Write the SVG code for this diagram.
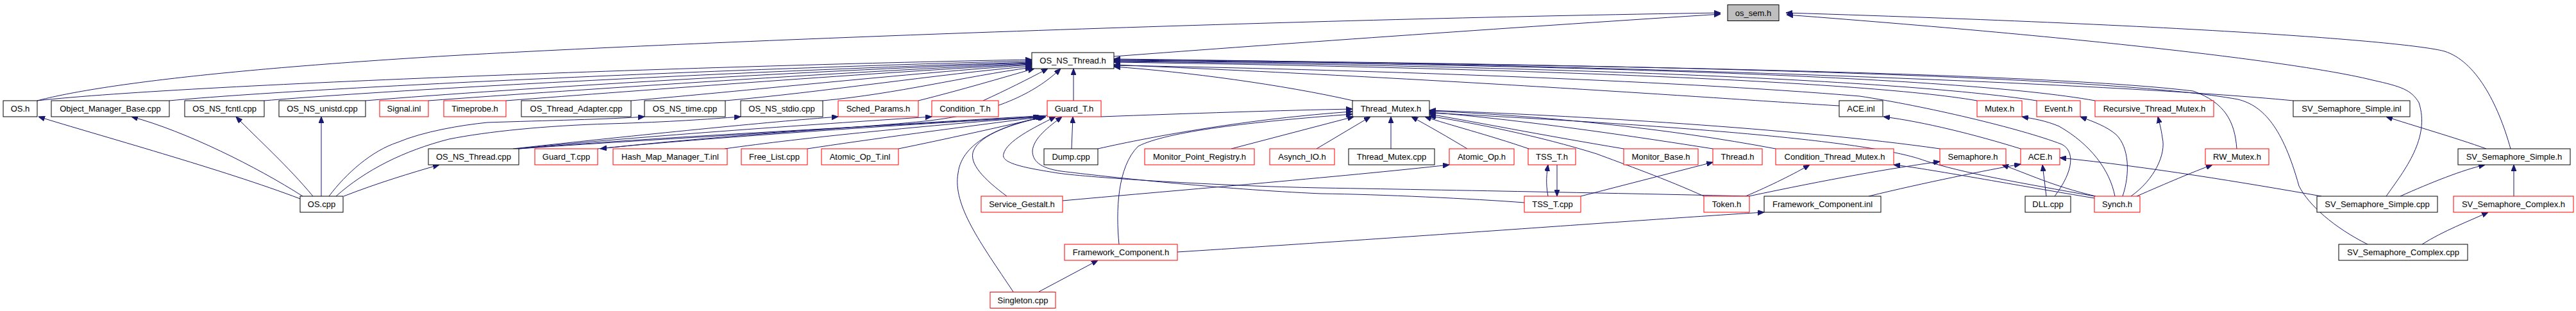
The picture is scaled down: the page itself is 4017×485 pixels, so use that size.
<svg xmlns="http://www.w3.org/2000/svg" width="4017" height="485" viewBox="0 0 4017 485">
<style>
.nd rect{fill:#ffffff;stroke:#000000;stroke-width:1}
.nd.red rect{stroke:#ff0000}
.nd.root rect{fill:#bfbfbf}
.nd text{font-family:"Liberation Sans",Arial,sans-serif;font-size:13px;text-anchor:middle;fill:#000000}
.edges path{fill:none;stroke:#191970;stroke-width:1;marker-end:url(#ah)}
</style>
<defs>
<marker id="ah" markerWidth="10" markerHeight="8" refX="10" refY="4" orient="auto" markerUnits="userSpaceOnUse"><path d="M0,0 L10,4 L0,8 z" fill="#191970" stroke="#191970"/></marker>
</defs>
<rect width="4017" height="485" fill="#ffffff"/>
<g id="edges" class="edges">
<path d="M58,157 C150,133 350,108 700,87 C1100,64 2000,30 2683,20"/>
<path d="M1737,88 C2000,68 2400,40 2683,22"/>
<path d="M3915,232 C3895,160 3860,95 3812,80 C3770,68 3500,42 2785,20"/>
<path d="M3721,306 C3750,265 3790,215 3772,160 C3760,140 3745,135 3700,125 C3600,100 3300,62 2786,23"/>
<path d="M58,157 C300,130 1200,100 1609,93"/>
<path d="M264,157 C500,135 1200,105 1609,95"/>
<path d="M412,157 C650,137 1250,107 1609,97"/>
<path d="M570,157 C800,138 1300,108 1609,98"/>
<path d="M668,157 C900,140 1350,110 1609,99"/>
<path d="M789,157 C1000,141 1380,112 1609,100"/>
<path d="M984,157 C1150,143 1420,114 1609,101"/>
<path d="M1131,157 C1280,144 1460,116 1609,103"/>
<path d="M1283,157 C1400,146 1500,120 1609,105"/>
<path d="M1432,157 C1500,140 1560,122 1613,107"/>
<path d="M1533,157 C1570,140 1600,125 1634,107"/>
<path d="M1674,157 L1674,107"/>
<path d="M809,232 C1000,218 1350,200 1450,188 C1560,175 1620,140 1654,107"/>
<path d="M2110,157 C2000,132 1850,112 1737,104"/>
<path d="M2868,165 C2700,155 2300,125 1737,101"/>
<path d="M3204,306 C3235,265 3235,235 3215,225 C3150,200 3000,165 2900,150 C2600,125 2100,108 1737,102"/>
<path d="M3083,157 C2900,125 2300,105 1737,97"/>
<path d="M3176,157 C2950,122 2350,102 1737,96"/>
<path d="M3267,157 C3050,118 2400,100 1737,95"/>
<path d="M3488,232 C3485,190 3470,160 3420,142 C3200,115 2500,100 1737,94"/>
<path d="M3692,381 C3640,355 3600,320 3585,290 C3560,200 3530,165 3490,155 C3300,120 2600,100 1737,93"/>
<path d="M3576,157 C3300,130 2500,100 1737,92"/>
<path d="M809,232 C1000,215 1400,195 1621,182"/>
<path d="M932,232 C1100,215 1400,195 1623,182"/>
<path d="M1633,180 C1400,193 1100,213 936,232"/>
<path d="M1130,232 C1250,215 1450,195 1625,182"/>
<path d="M1259,232 C1350,218 1500,198 1627,182"/>
<path d="M1401,232 C1470,218 1560,198 1629,182"/>
<path d="M1570,306 C1535,280 1510,255 1518,235 C1528,210 1580,192 1631,182"/>
<path d="M1580,455 C1530,380 1485,320 1494,270 C1500,220 1565,195 1628,182"/>
<path d="M1671,232 L1673,182"/>
<path d="M2727,306 C2600,303 2300,297 2060,293 C1900,290 1700,277 1650,270 C1600,262 1560,255 1565,240 C1570,220 1610,200 1646,182"/>
<path d="M2377,316 C2300,310 2150,303 2060,302 C1900,295 1720,275 1655,267 C1620,262 1610,250 1610,235 C1612,215 1635,198 1656,182"/>
<path d="M800,232 C1000,210 1200,190 1307,182"/>
<path d="M805,232 C1000,212 1300,192 1453,182"/>
<path d="M1717,182 C1850,177 2000,172 2109,170"/>
<path d="M1712,232 C1800,212 1950,185 2109,174"/>
<path d="M1745,381 C1740,330 1742,260 1775,228 C1820,205 1950,190 2109,178"/>
<path d="M1920,232 L2111,182"/>
<path d="M2053,232 L2137,182"/>
<path d="M2169,232 L2169,182"/>
<path d="M2288,232 C2260,215 2225,195 2201,182"/>
<path d="M2384,232 C2320,210 2260,195 2222,182"/>
<path d="M2532,232 C2400,210 2300,190 2229,178"/>
<path d="M2671,232 C2500,205 2350,185 2229,175"/>
<path d="M2657,306 C2600,280 2530,255 2490,240 C2400,212 2300,192 2229,181"/>
<path d="M2769,232 C2600,200 2400,180 2229,173"/>
<path d="M3025,232 C2800,200 2450,180 2229,172"/>
<path d="M3266,306 C3150,285 3060,270 3000,250 C2950,232 2800,205 2229,176"/>
<path d="M3151,232 C3080,210 3000,190 2937,182"/>
<path d="M3191,306 L3185,257"/>
<path d="M2914,306 C3000,285 3100,265 3151,256"/>
<path d="M3620,306 C3500,285 3350,260 3212,246"/>
<path d="M2727,306 C2850,280 2950,262 3025,252"/>
<path d="M3268,306 C3200,290 3160,270 3122,257"/>
<path d="M2722,306 C2760,290 2800,270 2822,257"/>
<path d="M3266,309 C3150,290 3000,262 2953,257"/>
<path d="M2465,306 L2671,253"/>
<path d="M2414,306 C2410,285 2412,270 2414,257"/>
<path d="M2428,257 L2428,306"/>
<path d="M1657,313 C1800,300 2100,275 2260,257"/>
<path d="M1836,393 C2200,370 2600,340 2751,331"/>
<path d="M1620,455 L1712,406"/>
<path d="M3298,306 C3290,265 3260,225 3211,197 C3190,188 3170,185 3153,182"/>
<path d="M3310,306 C3322,270 3320,230 3300,210 C3285,197 3265,190 3244,182"/>
<path d="M3323,306 C3360,280 3378,240 3372,215 C3370,200 3367,190 3365,182"/>
<path d="M3332,306 C3380,285 3420,268 3450,257"/>
<path d="M3877,232 C3830,215 3760,195 3721,182"/>
<path d="M3743,306 C3790,285 3840,265 3875,257"/>
<path d="M3920,306 L3920,257"/>
<path d="M3777,381 C3810,360 3850,345 3880,331"/>
<path d="M513,306 C540,270 580,235 620,222 C660,205 720,195 760,191 C850,188 950,186 1005,182"/>
<path d="M524,306 C570,265 630,235 700,217 C760,205 850,196 950,193 C1050,190 1100,186 1155,182"/>
<path d="M468,310 C350,265 150,210 60,182"/>
<path d="M472,306 C400,260 290,205 205,182"/>
<path d="M488,306 C450,260 400,215 368,182"/>
<path d="M501,306 L501,182"/>
<path d="M536,306 C590,285 640,270 685,257"/>
</g>
<g id="n_os_sem_h" class="nd root"><rect x="2694" y="7.5" width="80" height="25"/><text x="2734" y="24.5">os_sem.h</text></g>
<g id="n_OS_NS_Thread_h" class="nd"><rect x="1609" y="82" width="128" height="25"/><text x="1673" y="99">OS_NS_Thread.h</text></g>
<g id="n_OS_h" class="nd"><rect x="5" y="157" width="53" height="25"/><text x="31.5" y="174">OS.h</text></g>
<g id="n_Object_Manager_Base_cpp" class="nd"><rect x="80" y="157" width="184" height="25"/><text x="172" y="174">Object_Manager_Base.cpp</text></g>
<g id="n_OS_NS_fcntl_cpp" class="nd"><rect x="288" y="157" width="124" height="25"/><text x="350" y="174">OS_NS_fcntl.cpp</text></g>
<g id="n_OS_NS_unistd_cpp" class="nd"><rect x="435" y="157" width="135" height="25"/><text x="502.5" y="174">OS_NS_unistd.cpp</text></g>
<g id="n_Signal_inl" class="nd red"><rect x="592" y="157" width="76" height="25"/><text x="630" y="174">Signal.inl</text></g>
<g id="n_Timeprobe_h" class="nd red"><rect x="692" y="157" width="97" height="25"/><text x="740.5" y="174">Timeprobe.h</text></g>
<g id="n_OS_Thread_Adapter_cpp" class="nd"><rect x="813" y="157" width="171" height="25"/><text x="898.5" y="174">OS_Thread_Adapter.cpp</text></g>
<g id="n_OS_NS_time_cpp" class="nd"><rect x="1005" y="157" width="126" height="25"/><text x="1068" y="174">OS_NS_time.cpp</text></g>
<g id="n_OS_NS_stdio_cpp" class="nd"><rect x="1155" y="157" width="128" height="25"/><text x="1219" y="174">OS_NS_stdio.cpp</text></g>
<g id="n_Sched_Params_h" class="nd red"><rect x="1307" y="157" width="125" height="25"/><text x="1369.5" y="174">Sched_Params.h</text></g>
<g id="n_Condition_T_h" class="nd red"><rect x="1453" y="157" width="104" height="25"/><text x="1505" y="174">Condition_T.h</text></g>
<g id="n_Guard_T_h" class="nd red"><rect x="1633" y="157" width="84" height="25"/><text x="1675" y="174">Guard_T.h</text></g>
<g id="n_Thread_Mutex_h" class="nd"><rect x="2109" y="157" width="120" height="25"/><text x="2169" y="174">Thread_Mutex.h</text></g>
<g id="n_ACE_inl" class="nd"><rect x="2868" y="157" width="68" height="25"/><text x="2902" y="174">ACE.inl</text></g>
<g id="n_Mutex_h" class="nd red"><rect x="3083" y="157" width="70" height="25"/><text x="3118" y="174">Mutex.h</text></g>
<g id="n_Event_h" class="nd red"><rect x="3176" y="157" width="68" height="25"/><text x="3210" y="174">Event.h</text></g>
<g id="n_Recursive_Thread_Mutex_h" class="nd red"><rect x="3267" y="157" width="185" height="25"/><text x="3359.5" y="174">Recursive_Thread_Mutex.h</text></g>
<g id="n_SV_Semaphore_Simple_inl" class="nd"><rect x="3576" y="157" width="182" height="25"/><text x="3667" y="174">SV_Semaphore_Simple.inl</text></g>
<g id="n_OS_NS_Thread_cpp" class="nd"><rect x="668" y="232" width="141" height="25"/><text x="738.5" y="249">OS_NS_Thread.cpp</text></g>
<g id="n_Guard_T_cpp" class="nd red"><rect x="834" y="232" width="98" height="25"/><text x="883" y="249">Guard_T.cpp</text></g>
<g id="n_Hash_Map_Manager_T_inl" class="nd red"><rect x="956" y="232" width="178" height="25"/><text x="1045" y="249">Hash_Map_Manager_T.inl</text></g>
<g id="n_Free_List_cpp" class="nd red"><rect x="1156" y="232" width="103" height="25"/><text x="1207.5" y="249">Free_List.cpp</text></g>
<g id="n_Atomic_Op_T_inl" class="nd red"><rect x="1281" y="232" width="120" height="25"/><text x="1341" y="249">Atomic_Op_T.inl</text></g>
<g id="n_Dump_cpp" class="nd"><rect x="1628" y="232" width="84" height="25"/><text x="1670" y="249">Dump.cpp</text></g>
<g id="n_Monitor_Point_Registry_h" class="nd red"><rect x="1785" y="232" width="171" height="25"/><text x="1870.5" y="249">Monitor_Point_Registry.h</text></g>
<g id="n_Asynch_IO_h" class="nd red"><rect x="1980" y="232" width="101" height="25"/><text x="2030.5" y="249">Asynch_IO.h</text></g>
<g id="n_Thread_Mutex_cpp" class="nd"><rect x="2103" y="232" width="134" height="25"/><text x="2170" y="249">Thread_Mutex.cpp</text></g>
<g id="n_Atomic_Op_h" class="nd red"><rect x="2260" y="232" width="101" height="25"/><text x="2310.5" y="249">Atomic_Op.h</text></g>
<g id="n_TSS_T_h" class="nd red"><rect x="2383" y="232" width="74" height="25"/><text x="2420" y="249">TSS_T.h</text></g>
<g id="n_Monitor_Base_h" class="nd red"><rect x="2532" y="232" width="116" height="25"/><text x="2590" y="249">Monitor_Base.h</text></g>
<g id="n_Thread_h" class="nd red"><rect x="2671" y="232" width="77" height="25"/><text x="2709.5" y="249">Thread.h</text></g>
<g id="n_Condition_Thread_Mutex_h" class="nd red"><rect x="2769" y="232" width="184" height="25"/><text x="2861" y="249">Condition_Thread_Mutex.h</text></g>
<g id="n_Semaphore_h" class="nd red"><rect x="3025" y="232" width="103" height="25"/><text x="3076.5" y="249">Semaphore.h</text></g>
<g id="n_ACE_h" class="nd red"><rect x="3151" y="232" width="61" height="25"/><text x="3181.5" y="249">ACE.h</text></g>
<g id="n_RW_Mutex_h" class="nd red"><rect x="3439" y="232" width="99" height="25"/><text x="3488.5" y="249">RW_Mutex.h</text></g>
<g id="n_SV_Semaphore_Simple_h" class="nd"><rect x="3833" y="232" width="175" height="25"/><text x="3920.5" y="249">SV_Semaphore_Simple.h</text></g>
<g id="n_OS_cpp" class="nd"><rect x="468" y="306" width="67" height="25"/><text x="501.5" y="323">OS.cpp</text></g>
<g id="n_Service_Gestalt_h" class="nd red"><rect x="1530" y="306" width="127" height="25"/><text x="1593.5" y="323">Service_Gestalt.h</text></g>
<g id="n_TSS_T_cpp" class="nd red"><rect x="2377" y="306" width="88" height="25"/><text x="2421" y="323">TSS_T.cpp</text></g>
<g id="n_Token_h" class="nd red"><rect x="2657" y="306" width="71" height="25"/><text x="2692.5" y="323">Token.h</text></g>
<g id="n_Framework_Component_inl" class="nd"><rect x="2751" y="306" width="182" height="25"/><text x="2842" y="323">Framework_Component.inl</text></g>
<g id="n_DLL_cpp" class="nd"><rect x="3158" y="306" width="71" height="25"/><text x="3193.5" y="323">DLL.cpp</text></g>
<g id="n_Synch_h" class="nd red"><rect x="3266" y="306" width="71" height="25"/><text x="3301.5" y="323">Synch.h</text></g>
<g id="n_SV_Semaphore_Simple_cpp" class="nd"><rect x="3613" y="306" width="188" height="25"/><text x="3707" y="323">SV_Semaphore_Simple.cpp</text></g>
<g id="n_SV_Semaphore_Complex_h" class="nd red"><rect x="3826" y="306" width="187" height="25"/><text x="3919.5" y="323">SV_Semaphore_Complex.h</text></g>
<g id="n_Framework_Component_h" class="nd red"><rect x="1660" y="381" width="176" height="25"/><text x="1748" y="398">Framework_Component.h</text></g>
<g id="n_SV_Semaphore_Complex_cpp" class="nd"><rect x="3647" y="381" width="201" height="25"/><text x="3747.5" y="398">SV_Semaphore_Complex.cpp</text></g>
<g id="n_Singleton_cpp" class="nd red"><rect x="1544" y="455.5" width="102" height="25"/><text x="1595" y="472.5">Singleton.cpp</text></g>
</svg>
